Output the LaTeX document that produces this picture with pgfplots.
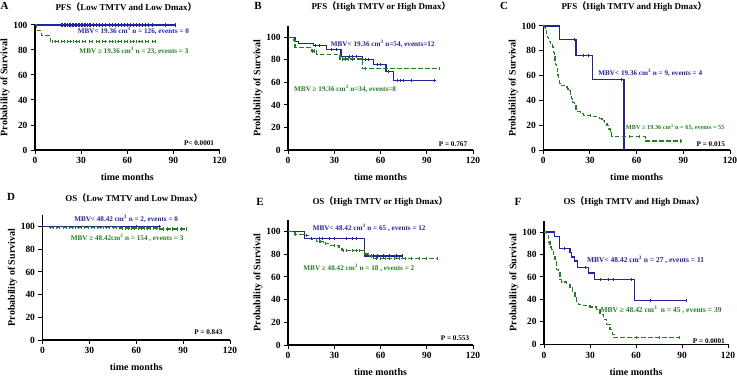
\documentclass[border=0pt]{standalone}
\usepackage{fontspec}
\setmainfont{Liberation Serif}
\newfontfamily\cjk{Noto Sans CJK SC}
\usepackage{pgfplots}
\pgfplotsset{compat=1.18}

\definecolor{kmblue}{RGB}{35,35,160}
\definecolor{kmgreen}{RGB}{34,128,34}

\newcommand{\lp}{{\cjk （}}
\newcommand{\rp}{{\cjk ）}}

\pgfplotsset{
  km/.style={
    scale only axis, anchor=south west,
    axis lines=left, axis line style={-, line width=1.2pt},
    xmin=0, xmax=120, ymin=0,
    xtick={0,30,...,120}, ytick={0,20,...,100},
    tick style={black, line width=1pt}, major tick length=4bp, tick align=outside,
    /pgf/number format/assume math mode=true,
    ticklabel style={font=\bfseries\fontsize{9.5}{10}\selectfont},
    xlabel={time months}, ylabel={Probability of Survival},
    label style={font=\bfseries\fontsize{10}{11}\selectfont, inner sep=0pt},
    xlabel style={at={([yshift=-27.5bp]axis description cs:0.5,0)}, anchor=center},
    ylabel style={at={([xshift=-30bp]axis description cs:0,0.5)}, anchor=center},
    clip=false,
  },
  bl/.style={const plot, kmblue, line width=1.25pt},
  gr/.style={const plot, kmgreen, line width=1.25pt, dash pattern=on 4.5bp off 2.5bp},
  cb/.style={only marks, mark=|, mark size=1.6bp, kmblue, mark options={line width=0.6pt, solid}},
  cg/.style={only marks, mark=|, mark size=1.6bp, kmgreen, mark options={line width=0.6pt, solid}},
}
\tikzset{
  ann/.style={font=\bfseries\fontsize{7.2}{8}\selectfont, inner sep=0pt, anchor=west},
  pv/.style={font=\bfseries\fontsize{7.2}{8}\selectfont, inner sep=0pt, anchor=east, black},
}

\begin{document}
\begin{tikzpicture}[x=1bp, y=1bp]
\path[use as bounding box] (0,0) rectangle (737,377);

% ---------------- A: PFS, low TMTV and low Dmax
\begin{axis}[km, at={(35bp,227bp)}, width=184.5bp, height=125bp, ymax=100]
\addplot[bl] coordinates {(0,100) (91,100)};
\addplot[gr] coordinates {(0,100) (1,95.7) (4,91.3) (10,87.0) (78,87.0)};
\addplot[cb] coordinates {(17,100)(18,100)(19,100)(20,100)(21,100)(22,100)(23,100)(24,100)(25,100)(26,100)(27,100)(28,100)(29,100)(30,100)(31,100)(32,100)(33,100)(34,100)(35,100)(36,100)(38,100)(40,100)(42,100)(44,100)(46,100)(48,100)(50,100)(52,100)(54,100)(56,100)(58,100)(60,100)(62,100)(64,100)(66,100)(68,100)(70,100)(72,100)(74,100)(76,100)(85,100)(91,100)};
\addplot[cg] coordinates {(11,87)(13,87)(15,87)(17,87)(19,87)(21,87)(23,87)(25,87)(27,87)(29,87)(31,87)(33,87)(35,87)(37,87)(40,87)(42,87)(44,87)(46,87)(48,87)(50,87)(52,87)(54,87)(56,87)(58,87)(60,87)(62,87)(64,87)(66,87)(68,87)(70,87)(72,87)(74,87)(76,87)(78,87)};
\node[ann, kmblue] at (axis cs:27.8,95.2) {MBV< 19.36 cm\textsuperscript{3}  n = 126, events = 0};
\node[ann, kmgreen] at (axis cs:28.8,79.4) {MBV ≥ 19.36 cm\textsuperscript{3}  n = 23, events = 3};
\node[pv] at (axis cs:116.6,5.8) {P< 0.0001};
\end{axis}

% ---------------- B: PFS, high TMTV or high Dmax
\begin{axis}[km, at={(288bp,227bp)}, width=185bp, height=124bp, ymax=110]
\addplot[bl] coordinates {(0,100) (4.5,96.3) (7,94.4) (16.5,92.4) (25,88.9) (34.4,83) (48.5,80) (55.4,75.6) (63.6,69.6) (68.4,61.6) (96,61.6)};
\addplot[gr] coordinates {(0,100) (3.5,97.1) (4.5,91.2) (15.4,87.9) (18.6,84.6) (33.8,80.8) (48.5,72.6) (98.7,72.6)};
\addplot[cb] coordinates {(17.5,92.4)(20,92.4)(28,88.9)(31,88.9)(40,83)(42,83)(44,83)(50,80)(52,80)(58,75.6)(60,75.6)(65,69.6)(71,61.6)(73,61.6)(75,61.6)(80,61.6)(95,61.6)};
\addplot[cg] coordinates {(4,97.1)(16,87.9)(17,87.9)(35,80.8)(37,80.8)(39,80.8)(42,80.8)(50,72.6)(98,72.6)};
\node[ann, kmblue] at (axis cs:27.7,94) {MBV< 19.36 cm\textsuperscript{3}  n=54, events=12};
\node[ann, kmgreen] at (axis cs:3.9,54) {MBV ≥ 19.36 cm\textsuperscript{3}  n=34, events=8};
\node[pv] at (axis cs:116.3,5.3) {P = 0.767};
\end{axis}

% ---------------- C: PFS, high TMTV and high Dmax
\begin{axis}[km, at={(543.3bp,227bp)}, width=186.7bp, height=124bp, ymax=100]
\addplot[bl] coordinates {(0,100) (10.3,88.9) (21,76.2) (31.7,57.1) (51.8,0)};
\addplot[gr] coordinates {(0,100)(1,98.5)(1.5,96.9)(2,93.8)(2.7,90.8)(3.5,87.7)(4.5,84.6)(6,83.1)(6.5,78.5)(7,75.4)(7.5,72.3)(8,69.2)(8.5,66.2)(9,63.1)(9.5,60)(10,57)(10.5,53.8)(11.5,52.3)(13.5,50.8)(15.5,49.2)(16.5,47.7)(17.3,44.6)(18.2,41.5)(19,38.5)(20,35.4)(21,32.3)(22,30.8)(24,29.2)(26,27.7)(31,26.9)(36,25.4)(37.7,23.8)(39.5,21.5)(41,20)(42,16.9)(43,13.8)(44,10.8)(65.5,7.2)(89,7.2)};
\addplot[cb] coordinates {(20,88.9)(26,76.2)(29,76.2)(50,57.1)};
\addplot[cg] coordinates {(30,27.7)(55,10.8)(62,10.8)(88,7.2)};
\node[ann, kmblue] at (axis cs:35.3,61.9) {MBV< 19.36 cm\textsuperscript{3} n = 9, events = 4};
\node[ann, kmgreen, font=\bfseries\fontsize{6.3}{7}\selectfont] at (axis cs:53,18.3) {MBV ≥ 19.36 cm\textsuperscript{3} n = 65, events = 55};
\node[pv] at (axis cs:116.8,4.8) {P = 0.015};
\end{axis}

% ---------------- D: OS, low TMTV and low Dmax
\begin{axis}[km, at={(42.5bp,37bp)}, width=187.5bp, height=124.7bp, ymax=110]
\addplot[gr] coordinates {(0,100) (4,99.4) (50,98.7) (75,98.0) (92,98.0)};
\addplot[bl] coordinates {(0,100) (76,100)};
\addplot[cg] coordinates {(5,99.4)(7,99.4)(9,99.4)(11,99.4)(13,99.4)(15,99.4)(17,99.4)(19,99.4)(21,99.4)(23,99.4)(25,99.4)(27,99.4)(29,99.4)(31,99.4)(33,99.4)(35,99.4)(37,99.4)(39,99.4)(41,99.4)(43,99.4)(45,99.4)(47,99.4)(49,99.4)(51,98.7)(53,98.7)(55,98.7)(57,98.7)(59,98.7)(61,98.7)(63,98.7)(65,98.7)(67,98.7)(69,98.7)(71,98.7)(73,98.7)(77,98)(80,98)(83,98)(86,98)(89,98)(92,98)};
\addplot[cb] coordinates {(60,100)(75,100)};
\node[ann, kmblue] at (axis cs:20.2,106.8) {MBV< 48.42 cm\textsuperscript{3} n = 2, events = 0};
\node[ann, kmgreen] at (axis cs:18,90.3) {MBV ≥ 48.42cm\textsuperscript{3} n = 154 , events = 3};
\node[pv] at (axis cs:115.3,6.8) {P = 0.843};
\end{axis}

% ---------------- E: OS, high TMTV or high Dmax
\begin{axis}[km, at={(288bp,32bp)}, width=185bp, height=124.7bp, ymax=110]
\addplot[bl] coordinates {(0,100) (10.6,94.1) (49.6,78.5) (74.9,78.5)};
\addplot[gr] coordinates {(0,100)(4.5,97.6)(10,96.4)(15,93.5)(18.6,91.2)(23,89.4)(27,88)(33,85.3)(35,83.3)(49.6,80.3)(52,78.5)(55,76.5)(97.6,76.5)};
\addplot[cb] coordinates {(15,94.1)(20,94.1)(22,94.1)(27,94.1)(30,94.1)(38,94.1)(42,94.1)(44,94.1)(55,78.5)(58,78.5)(62,78.5)(66,78.5)(70,78.5)(74,78.5)};
\addplot[cg] coordinates {(5,97.6)(12,96.4)(20,91.2)(21,91.2)(24,89.4)(30,88)(36,83.3)(38,83.3)(42,83.3)(44,83.3)(46,83.3)(54,78.5)(57,76.5)(60,76.5)(63,76.5)(66,76.5)(69,76.5)(72,76.5)(76,76.5)(80,76.5)(85,76.5)(90,76.5)(97,76.5)};
\node[ann, kmblue] at (axis cs:16,103) {MBV< 48.42 cm\textsuperscript{3}  n = 65 , events = 12};
\node[ann, kmgreen] at (axis cs:9.9,67.7) {MBV ≥ 48.42 cm\textsuperscript{3}  n = 18 , events = 2};
\node[pv] at (axis cs:117.6,6.4) {P = 0.553};
\end{axis}

% ---------------- F: OS, high TMTV and high Dmax
\begin{axis}[km, at={(544bp,32.7bp)}, width=184bp, height=123.5bp, ymax=110]
\addplot[bl] coordinates {(0,100)(7,96.3)(10,85.2)(17,81.5)(18,77.8)(20,74.1)(22,68.5)(29,63.4)(33,58)(59,38.7)(93,38.7)};
\addplot[gr] coordinates {(0,100)(1.7,97.8)(2.8,91.1)(3.9,86.7)(5,84.4)(6.1,80)(7.2,73.3)(8.3,66.7)(9.3,64.4)(10.4,57.8)(11.5,55.6)(14.8,53.3)(17,51.1)(18.7,46.7)(20.2,42.2)(21.3,37.8)(22.4,35.6)(25.7,34.4)(30,33.3)(34.3,31.1)(36.5,26.7)(38.7,22.2)(40.9,17.8)(43,13.3)(44.6,8.9)(45.7,5.9)(88.7,5.9)};
\addplot[cb] coordinates {(13,85.2)(27,68.5)(37,58)(42,58)(45,58)(57,58)(69,38.7)(93,38.7)};
\addplot[cg] coordinates {(60,5.9)(75,5.9)(88,5.9)};
\node[ann, kmblue, font=\bfseries\fontsize{7.5}{8}\selectfont] at (axis cs:28,75.3) {MBV< 48.42 cm\textsuperscript{3}  n = 27 , events = 11};
\node[ann, kmgreen, font=\bfseries\fontsize{7.5}{8}\selectfont] at (axis cs:36.8,30.6) {MBV ≥ 48.42 cm\textsuperscript{3} \ n = 45 , events = 39};
\node[pv] at (axis cs:118,3.2) {P = 0.0001};
\end{axis}

% panel letters and titles
\begin{scope}[font=\bfseries\fontsize{9}{10}\selectfont]
\node at (126,370.3) {PFS\lp Low TMTV and Low Dmax\rp};
\node at (381,370.3) {PFS\lp High TMTV or High Dmax\rp};
\node at (634,370.3) {PFS\lp High TMTV and High Dmax\rp};
\node at (134,179) {OS\lp Low TMTV and Low Dmax\rp};
\node at (380,175) {OS\lp High TMTV or High Dmax\rp};
\node at (634,175) {OS\lp High TMTV and High Dmax\rp};
\end{scope}
\begin{scope}[font=\bfseries\fontsize{11}{12}\selectfont]
\node at (4.5,370.7) {A};
\node at (258,371) {B};
\node at (504,371) {C};
\node at (11,180) {D};
\node at (260,175) {E};
\node at (518,175) {F};
\end{scope}
\end{tikzpicture}
\end{document}
